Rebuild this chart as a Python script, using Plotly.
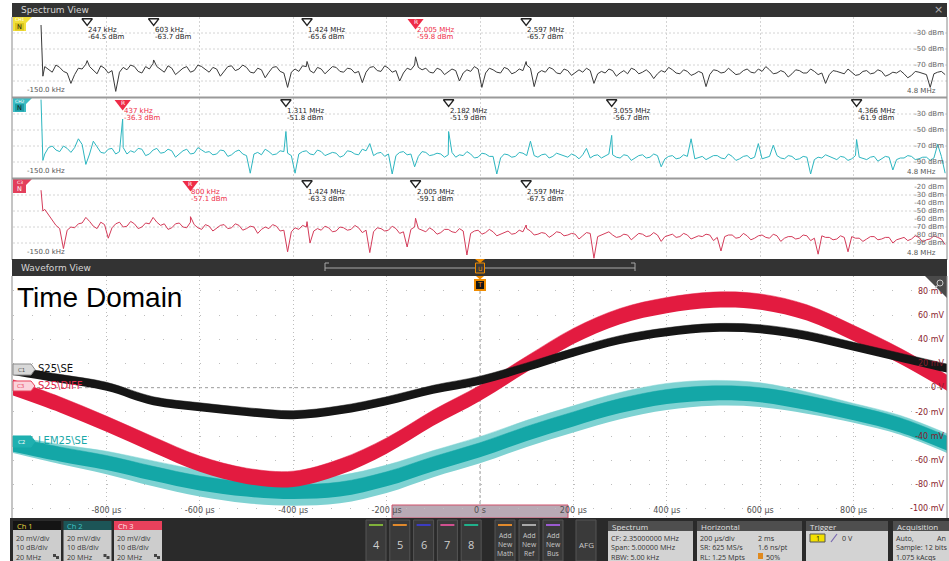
import numpy as np
import plotly.graph_objects as go

W, H = 949, 561
FONT = "DejaVu Sans"
UI_FONT = "Open Sans"

# ---------------- spectrum data (levels in dBm) ----------------
# regular samples every 20 kHz from 0.02 MHz to 4.84 MHz
SPEC_FREQ_MHZ = np.round(np.arange(1, 243) * 0.02, 3)
DC_FREQ_MHZ = [0.0, 0.01]

SPEC1_DC_DBM = [-20, -84]
SPEC1_DBM = [
    -72, -76, -79, -70, -73, -78, -80, -93, -82, -74,
    -75, -69, -72, -77, -81, -71, -74, -80, -77, -103,
    -79, -73, -76, -70, -72, -78, -80, -72, -75, -68,
    -72, -75, -79, -71, -74, -82, -78, -74, -72, -79,
    -77, -70, -72, -76, -79, -73, -75, -84, -78, -72,
    -71, -77, -75, -70, -73, -79, -80, -74, -76, -86,
    -79, -73, -72, -78, -80, -98, -79, -75, -78, -71,
    -72, -77, -80, -73, -75, -81, -77, -72, -73, -78,
    -79, -74, -75, -80, -78, -92, -79, -73, -72, -77,
    -78, -71, -74, -79, -77, -90, -80, -74, -76, -70,
    -73, -76, -74, -79, -80, -74, -76, -82, -79, -75,
    -77, -90, -80, -76, -78, -72, -75, -98, -80, -74,
    -76, -79, -80, -73, -75, -81, -79, -75, -77, -70,
    -74, -97, -80, -77, -79, -73, -75, -80, -81, -75,
    -77, -83, -80, -76, -79, -74, -77, -93, -81, -78,
    -80, -75, -77, -84, -80, -77, -81, -74, -76, -81,
    -79, -76, -80, -87, -81, -77, -79, -73, -76, -80,
    -81, -76, -78, -83, -81, -78, -80, -97, -82, -76,
    -77, -80, -79, -74, -78, -82, -81, -77, -75, -79,
    -80, -75, -78, -72, -76, -81, -80, -77, -79, -85,
    -81, -76, -77, -80, -80, -75, -78, -82, -80, -93,
    -82, -77, -78, -80, -81, -75, -79, -83, -82, -78,
    -77, -81, -80, -76, -78, -84, -82, -79, -80, -77,
    -81, -86, -83, -78, -79, -81, -82, -98, -81, -79,
    -78, -82,
]
SPEC2_DC_DBM = [-12, -88]
SPEC2_DBM = [
    -80, -72, -70, -75, -77, -70, -73, -78, -72, -61,
    -68, -93, -80, -64, -71, -78, -79, -74, -73, -80,
    -77, -72, -80, -76, -78, -73, -74, -82, -80, -75,
    -73, -79, -78, -74, -76, -84, -80, -76, -74, -80,
    -79, -72, -75, -78, -77, -81, -80, -75, -76, -83,
    -81, -77, -75, -80, -82, -104, -80, -78, -81, -74,
    -77, -81, -80, -76, -77, -79, -82, -104, -80, -77,
    -76, -80, -81, -75, -77, -82, -80, -78, -79, -84,
    -82, -76, -77, -80, -81, -74, -76, -67, -82, -79,
    -78, -83, -80, -105, -82, -78, -77, -81, -80, -96,
    -83, -77, -78, -82, -81, -79, -80, -84, -81, -78,
    -84, -81, -82, -77, -80, -85, -84, -79, -80, -83,
    -83, -105, -85, -80, -81, -84, -83, -78, -79, -82,
    -64, -82, -84, -81, -80, -85, -83, -79, -81, -83,
    -84, -80, -82, -86, -81, -73, -85, -82, -81, -85,
    -83, -80, -81, -84, -85, -81, -82, -88, -85, -82,
    -81, -85, -84, -80, -82, -96, -86, -83, -82, -86,
    -85, -81, -83, -61, -86, -84, -83, -87, -85, -82,
    -82, -85, -86, -80, -83, -88, -86, -83, -82, -86,
    -84, -67, -86, -84, -83, -69, -82, -85, -86, -82,
    -83, -87, -86, -83, -84, -105, -87, -84, -85, -81,
    -83, -86, -87, -83, -84, -88, -86, -82, -84, -86,
    -87, -84, -83, -89, -86, -83, -84, -100, -87, -85,
    -85, -82, -83, -87, -86, -84, -84, -88, -85, -68,
    -83, -104,
]
SPEC3_DC_DBM = [-24, -50]
SPEC3_DBM = [
    -48, -55, -62, -68, -72, -97, -74, -70, -71, -66,
    -65, -58, -63, -69, -72, -64, -67, -84, -71, -66,
    -64, -70, -69, -63, -66, -72, -70, -65, -66, -58,
    -64, -68, -66, -73, -71, -66, -65, -70, -71, -64,
    -67, -71, -73, -67, -69, -75, -72, -68, -67, -72,
    -71, -66, -68, -74, -72, -69, -70, -78, -73, -70,
    -72, -67, -69, -75, -74, -101, -76, -71, -73, -68,
    -70, -90, -75, -72, -74, -69, -71, -76, -75, -70,
    -71, -74, -73, -68, -71, -77, -74, -102, -76, -71,
    -72, -75, -74, -69, -72, -78, -76, -95, -73, -70,
    -72, -74, -76, -71, -74, -79, -77, -73, -73, -76,
    -77, -72, -75, -105, -78, -75, -74, -79, -77, -73,
    -76, -81, -79, -76, -75, -79, -78, -74, -76, -72,
    -75, -80, -79, -77, -78, -83, -80, -76, -77, -81,
    -80, -78, -79, -85, -81, -77, -78, -109, -82, -80,
    -79, -76, -80, -83, -82, -79, -80, -86, -82, -78,
    -79, -82, -81, -77, -80, -88, -82, -80, -79, -83,
    -82, -78, -80, -85, -83, -81, -82, -79, -80, -87,
    -83, -100, -82, -80, -80, -84, -83, -78, -81, -86,
    -84, -81, -80, -83, -84, -79, -81, -88, -84, -82,
    -82, -85, -84, -80, -81, -87, -84, -104, -81, -83,
    -83, -86, -85, -81, -83, -101, -82, -84, -84, -88,
    -85, -82, -82, -86, -85, -83, -83, -90, -86, -84,
    -83, -87, -85, -81, -83, -89, -86, -85, -81, -83,
    -85, -92,
]

# peak markers (frequency in MHz, level in dBm); REF = index of the reference marker
MARK1_MHZ = [0.247, 0.603, 1.424, 2.005, 2.597]
MARK1_DBM = [-64.5, -63.7, -65.6, -59.8, -65.7]
MARK1_REF = 3
MARK2_MHZ = [0.437, 1.311, 2.182, 3.055, 4.366]
MARK2_DBM = [-36.3, -51.8, -51.9, -56.7, -61.9]
MARK2_REF = 0
MARK3_MHZ = [0.800, 1.424, 2.005, 2.597]
MARK3_DBM = [-57.1, -63.3, -59.1, -67.5]
MARK3_REF = 0

SPEC_RANGE_MHZ = [-0.15, 4.85]
SPEC_RANGE_DBM = [-110, -10]
SPEC_GRID_DBM = [-30, -50, -70, -90]

# ---------------- time-domain data (mV) ----------------
WAVE_T_US = [-1000, -900, -800, -700, -600, -500, -400, -300, -200, -100, 0,
             100, 200, 300, 400, 500, 600, 700, 800, 900, 1000]
CH1_MV = [14, 7.5, 1, -11, -16, -20, -22.5, -18.5, -11, -1.5, 6,
          17, 29, 39.5, 46, 49.5, 48.5, 43, 34, 25, 16]
CH3_MV = [0, -14, -30, -47, -63, -73, -75.5, -65.5, -48, -25, -4.5,
          19.5, 42.5, 59, 68, 72.5, 71, 62, 45, 26, 4]
CH2_MV = [-47, -55, -62, -71, -79, -84, -86, -84, -75.5, -63, -51.5,
          -38, -26, -15, -7.5, -4.5, -6, -12.5, -21, -31, -46]
CH1_NOISE_MV = 3.5
CH3_NOISE_MV = 6.5
CH2_NOISE_MV = 6.0
CH2_HALO_MV = [7, 8, 9.5, 10.5, 11, 11.5, 11.5, 11.5, 11.5, 11, 11,
               11, 11, 11, 11, 10.5, 10, 9, 8, 8, 8]

TIME_TICKS_US = [-800, -600, -400, -200, 0, 200, 400, 600, 800]
VOLT_TICKS_MV = [80, 60, 40, 20, 0, -20, -40, -60, -80, -100]

# ---------------- helpers ----------------
fig = go.Figure()
shapes, annos = [], []


def px_x(x):
    return x / W


def px_y(y):
    return 1 - y / H


def rect(x0, y0, x1, y1, fill, line=None, lw=0, layer="above"):
    shapes.append(dict(type="rect", xref="paper", yref="paper",
                       x0=px_x(x0), x1=px_x(x1), y0=px_y(y1), y1=px_y(y0),
                       fillcolor=fill, line=dict(color=line or fill, width=lw), layer=layer))


def seg(x0, y0, x1, y1, color, lw=1, dash="solid", layer="above"):
    shapes.append(dict(type="line", xref="paper", yref="paper",
                       x0=px_x(x0), y0=px_y(y0), x1=px_x(x1), y1=px_y(y1),
                       line=dict(color=color, width=lw, dash=dash), layer=layer))


def poly(pts, fill, line=None, lw=0, layer="above"):
    d = "M " + " L ".join(f"{px_x(x):.5f},{px_y(y):.5f}" for x, y in pts) + " Z"
    shapes.append(dict(type="path", xref="paper", yref="paper", path=d, fillcolor=fill,
                       line=dict(color=line or fill, width=lw), layer=layer))


def label(x, y, s, size=8, color="#222", xa="left", family=FONT):
    annos.append(dict(xref="paper", yref="paper", x=px_x(x), y=px_y(y), text=s,
                      showarrow=False, xanchor=xa, yanchor="middle", borderpad=0,
                      font=dict(size=size, color=color, family=family)))


def freq_text(f):
    return f"{f * 1000:.0f} kHz" if f < 1 else f"{f:.3f} MHz"


axes = {}

# ---------------- spectrum view ----------------
PANELS = [
    dict(levels=SPEC1_DBM, dc=SPEC1_DC_DBM, mf=MARK1_MHZ, md=MARK1_DBM, ref=MARK1_REF,
         color="#3a3a3a", top=17, bottom=97, ticks=[-30, -50, -70],
         badge="#f2df3a", badge_in="#dcc61e", tag="CH1", tag_col="#ffffff", n_col="#111"),
    dict(levels=SPEC2_DBM, dc=SPEC2_DC_DBM, mf=MARK2_MHZ, md=MARK2_DBM, ref=MARK2_REF,
         color="#2db6c0", top=98, bottom=178, ticks=[-30, -50, -70, -90],
         badge="#3cbcc4", badge_in="#1f9ea6", tag="CH2", tag_col="#ffffff", n_col="#111"),
    dict(levels=SPEC3_DBM, dc=SPEC3_DC_DBM, mf=MARK3_MHZ, md=MARK3_DBM, ref=MARK3_REF,
         color="#d43c5a", top=179, bottom=259, ticks=[-20, -30, -40, -50, -60, -70, -80, -90],
         badge="#e3405c", badge_in="#e3405c", tag="C3", tag_col="#ffffff", n_col="#ffffff"),
]

rect(12, 3, 947, 17, "#333333")
label(20, 10, "Spectrum View", 9, "#d6d6d6")
label(938, 10, "×", 11, "#b0b0b0", xa="center")

px_per_db = 80 / (SPEC_RANGE_DBM[1] - SPEC_RANGE_DBM[0])
mark_y = SPEC_RANGE_DBM[1] - 4.0 / px_per_db
ref_y = SPEC_RANGE_DBM[1] - 5.5 / px_per_db

for i, p in enumerate(PANELS):
    n = "" if i == 0 else str(i + 1)
    xr, yr = "x" + n, "y" + n
    axes["xaxis" + n] = dict(domain=[px_x(13), px_x(947)], range=SPEC_RANGE_MHZ, anchor=yr,
                             tickmode="linear", tick0=-0.15, dtick=0.5, showticklabels=False,
                             ticks="", zeroline=False, showline=False, showgrid=True,
                             gridcolor="#d4d4d4", griddash="2px,2px", gridwidth=1)
    axes["yaxis" + n] = dict(domain=[px_y(p["bottom"]), px_y(p["top"])], range=SPEC_RANGE_DBM,
                             anchor=xr, side="right", tickmode="array", tickvals=p["ticks"],
                             ticktext=[f"{v} dBm" for v in p["ticks"]],
                             ticklabelposition="inside", ticklabeloverflow="allow",
                             ticks="", showgrid=False, zeroline=False, showline=False,
                             tickfont=dict(size=7, color="#6a6a6a", family=FONT))
    for v in SPEC_GRID_DBM:
        shapes.append(dict(type="line", xref="paper", yref=yr, x0=px_x(13), x1=px_x(947),
                           y0=v, y1=v, line=dict(color="#d4d4d4", width=1, dash="2px,2px"),
                           layer="below"))

    f = np.concatenate([DC_FREQ_MHZ, SPEC_FREQ_MHZ, p["mf"]])
    v = np.concatenate([p["dc"], p["levels"], p["md"]])
    order = np.argsort(f, kind="stable")
    fig.add_trace(go.Scatter(x=f[order], y=v[order], mode="lines",
                             line=dict(color=p["color"], width=1),
                             xaxis=xr, yaxis=yr, hoverinfo="skip"))

    normal = [j for j in range(len(p["mf"])) if j != p["ref"]]
    fig.add_trace(go.Scatter(x=[p["mf"][j] for j in normal], y=[mark_y] * len(normal),
                             mode="markers", cliponaxis=False, xaxis=xr, yaxis=yr,
                             marker=dict(symbol="triangle-down-open", size=9, color="#222",
                                         line=dict(width=1.3, color="#222")),
                             hoverinfo="skip"))
    fig.add_trace(go.Scatter(x=[p["mf"][p["ref"]]], y=[ref_y], mode="markers",
                             cliponaxis=False, xaxis=xr, yaxis=yr,
                             marker=dict(symbol="triangle-down", size=14, color="#ee2b47"),
                             hoverinfo="skip"))
    annos.append(dict(xref=xr, yref=yr + " domain", x=p["mf"][p["ref"]], y=1 - 4.5 / 80,
                      text="R", showarrow=False, xanchor="center", yanchor="middle",
                      font=dict(size=6, color="#ffffff", family=FONT)))

    for j, (mf, md) in enumerate(zip(p["mf"], p["md"])):
        col = "#ee2b47" if j == p["ref"] else "#222222"
        for k, s in enumerate([freq_text(mf), f"{md:.1f} dBm"]):
            annos.append(dict(xref=xr, yref=yr + " domain", x=mf, y=1 - (13 + 7 * k) / 80,
                              text=s, showarrow=False, xanchor="left", yanchor="middle",
                              borderpad=0, font=dict(size=7, color=col, family=FONT)))

    label(26, p["bottom"] - 7, "-150.0 kHz", 7, "#555")
    label(937, p["bottom"] - 6, "4.8 MHz", 7, "#555", xa="right")

    # channel badge
    t = p["top"]
    poly([(13, t), (32, t), (26, t + 6), (26, t + 14), (13, t + 14)], p["badge"])
    rect(15, t + 6, 24, t + 13.5, p["badge_in"])
    label(19.5, t + 3, p["tag"], 4.5, p["tag_col"], xa="center")
    label(19.5, t + 10, "N", 6.5, p["n_col"], xa="center")

# panel frames and separators
seg(12, 17, 12, 260, "#8a8a8a", 1)
seg(947, 17, 947, 260, "#8a8a8a", 1)
seg(12, 97.5, 947, 97.5, "#9a9a9a", 2)
seg(12, 178.5, 947, 178.5, "#9a9a9a", 2)

# ---------------- waveform view ----------------
rect(12, 259, 947, 276, "#333333")
label(20, 268, "Waveform View", 9, "#d6d6d6")
seg(325, 268, 635, 268, "#a8a8a8", 1)
seg(325, 263, 325, 271, "#a8a8a8", 1)
seg(635, 263, 635, 271, "#a8a8a8", 1)
seg(325, 263, 329, 263, "#a8a8a8", 1)
seg(631, 263, 635, 263, "#a8a8a8", 1)
poly([(475, 259), (485, 259), (480, 263)], "#f08c00")
rect(475.5, 263, 484.5, 273, "#3a3a3a", "#f08c00", 1)
label(480, 268, "U", 6, "#f08c00", xa="center")
poly([(476, 276), (484, 276), (480, 279.5)], "#f08c00")
rect(474, 279, 486, 291, "#f08c00")
rect(476, 281, 484, 289, "#151515")
label(480, 285, "T", 7, "#f08c00", xa="center")

axes["xaxis4"] = dict(domain=[px_x(13), px_x(947)], range=[-1000, 1000], anchor="y4",
                      tickmode="array", tickvals=TIME_TICKS_US,
                      ticktext=[("0 s" if v == 0 else f"{v} µs") for v in TIME_TICKS_US],
                      ticklabelposition="inside", ticklabeloverflow="allow", ticks="",
                      showgrid=True, gridcolor="#bdbdbd", griddash="1px,3px", gridwidth=1,
                      zeroline=False, showline=False,
                      tickfont=dict(size=8, color="#505050", family=FONT))
axes["yaxis4"] = dict(domain=[px_y(518), px_y(276)], range=[-107.7, 92.3], anchor="x4",
                      side="right", tickmode="array", tickvals=VOLT_TICKS_MV,
                      ticktext=[("0 V" if v == 0 else f"{v} mV") for v in VOLT_TICKS_MV],
                      ticklabelposition="inside", ticklabeloverflow="allow", ticks="",
                      showgrid=True, gridcolor="#bdbdbd", griddash="1px,17.7px", gridwidth=1,
                      zeroline=False, showline=False,
                      tickfont=dict(size=8, color="#8a1c2e", family=FONT))

# zero-time and zero-volt reference lines
shapes.append(dict(type="line", xref="x4", yref="paper", x0=0, x1=0, y0=px_y(291), y1=px_y(518),
                   line=dict(color="#9a9a9a", width=1, dash="3px,3px"), layer="below"))
shapes.append(dict(type="line", xref="paper", yref="y4", x0=px_x(13), x1=px_x(947), y0=0, y1=0,
                   line=dict(color="#9a9a9a", width=1, dash="3px,3px"), layer="below"))

# spectrum time window on the time axis
rect(392, 505, 568, 518, "#b9aab5", "#d0506a", 1, layer="below")


def band(center, half, color):
    if np.isscalar(half):
        half = [half] * len(center)
    lo = [c - h for c, h in zip(center, half)]
    hi = [c + h for c, h in zip(center, half)]
    fig.add_trace(go.Scatter(x=WAVE_T_US, y=lo, mode="lines", xaxis="x4", yaxis="y4",
                             line=dict(width=0, shape="spline", color=color), hoverinfo="skip"))
    fig.add_trace(go.Scatter(x=WAVE_T_US, y=hi, mode="lines", xaxis="x4", yaxis="y4",
                             line=dict(width=0.5, shape="spline", color=color),
                             fill="tonexty", fillcolor=color, hoverinfo="skip"))


band(CH2_MV, CH2_HALO_MV, "#7fd2d2")
band(CH2_MV, CH2_NOISE_MV, "#14a7a7")
band(CH3_MV, CH3_NOISE_MV, "#e31b40")
band(CH1_MV, CH1_NOISE_MV, "#161616")

# channel labels
poly([(13, 364), (31, 364), (35, 369.5), (31, 375), (13, 375)], "#d8d8d8", "#8a8a8a", 1)
label(21, 369.5, "C1", 5.5, "#555", xa="center")
label(37, 368.5, "S25\\SE", 10, "#111")
poly([(13, 381), (31, 381), (35, 386), (31, 391), (13, 391)], "#fbd3db", "#e8405a", 1)
label(21, 386, "C3", 5.5, "#e8405a", xa="center")
label(37, 385, "S25\\DIFF", 10, "#e0284a")
poly([(13, 436), (31, 436), (35, 441.5), (31, 447), (13, 447)], "#1fb0b0", "#1fb0b0", 1)
label(21, 441.5, "C2", 5.5, "#ffffff", xa="center")
label(37, 440.5, "LEM25\\SE", 10, "#1aa8a8")

label(16, 297, "Time Domain", 28, "#000000", family="Liberation Sans")

# zoom corner
poly([(925, 276), (947, 276), (947, 298)], "#4a4a4a")
shapes.append(dict(type="circle", xref="paper", yref="paper", x0=px_x(937), x1=px_x(943),
                   y0=px_y(286), y1=px_y(280), line=dict(color="#c8c8c8", width=1)))
seg(937.5, 285.5, 935, 288, "#c8c8c8", 1.2)

seg(12, 276, 12, 518, "#8a8a8a", 1)
seg(947, 276, 947, 518, "#8a8a8a", 1)

# ---------------- status bar ----------------
rect(10, 518, 949, 561, "#2a2a2a")
ROW_Y = [537.5, 547.0, 556.5]

CH_NAMES = ["Ch 1", "Ch 2", "Ch 3"]
CH_HDR = ["#141414", "#1c5557", "#e8415c"]
CH_HDR_TXT = ["#e6d33c", "#3fc3c6", "#ffe6ea"]
CH_SETTINGS = ["20 mV/div", "10 dB/div", "20 MHz"]
for k, (name, hc, tc) in enumerate(zip(CH_NAMES, CH_HDR, CH_HDR_TXT)):
    x0 = 13 + 50.5 * k
    rect(x0, 521, x0 + 48, 530, hc)
    rect(x0, 530, x0 + 48, 561, "#cdcdcd")
    label(x0 + 2.5, 525.5, name, 7.5, tc, family=UI_FONT)
    for ry, s in zip(ROW_Y, CH_SETTINGS):
        label(x0 + 2, ry, s, 7.2, "#3c3c3c", family=UI_FONT)
    rect(x0 + 40, 554, x0 + 43, 557, "#444")
    rect(x0 + 43, 556, x0 + 46, 559, "#444")

BTN_NUM = ["4", "5", "6", "7", "8"]
BTN_COL = ["#7fb03a", "#e0892c", "#3c3cc0", "#d0508f", "#20b08a"]
for k, (s, c) in enumerate(zip(BTN_NUM, BTN_COL)):
    x0 = 366 + 23.8 * k
    rect(x0, 520, x0 + 20, 561, "#3a3a3a", "#555555", 1)
    seg(x0 + 3, 525, x0 + 17, 525, c, 2)
    label(x0 + 10, 544, s, 11, "#cfcfcf", xa="center", family=UI_FONT)

ADD_NAMES = ["Math", "Ref", "Bus"]
ADD_COL = ["#e0892c", "#a8a8a8", "#9a5ad0"]
for k, (s, c) in enumerate(zip(ADD_NAMES, ADD_COL)):
    x0 = 495 + 24 * k
    rect(x0, 520, x0 + 20, 561, "#3a3a3a", "#555555", 1)
    seg(x0 + 3, 525, x0 + 17, 525, c, 2)
    for r, w in enumerate(["Add", "New", s]):
        label(x0 + 10, 535.5 + 8.8 * r, w, 6.8, "#c8c8c8", xa="center", family=UI_FONT)

rect(576, 520, 596, 561, "#3a3a3a", "#555555", 1)
label(586, 544, "AFG", 8, "#c8c8c8", xa="center", family=UI_FONT)

INFO_BOXES = [
    ("Spectrum", 608, 693, [[("CF: 2.35000000 MHz", 0)], [("Span: 5.00000 MHz", 0)], [("RBW: 5.00 kHz", 0)]]),
    ("Horizontal", 697, 802, [[("200 µs/div", 0), ("2 ms", 58)],
                              [("SR: 625 MS/s", 0), ("1.6 ns/pt", 58)],
                              [("RL: 1.25 Mpts", 0), ("50%", 66)]]),
    ("Trigger", 806, 888, []),
    ("Acquisition", 893, 952, [[("Auto,", 0), ("An", 41)], [("Sample: 12 bits", 0)], [("1.075 kAcqs", 0)]]),
]
for title, x0, x1, rows in INFO_BOXES:
    rect(x0, 521, x1, 531, "#4e4e4e")
    rect(x0, 531, x1, 561, "#d3d3d3")
    label(x0 + 3, 526, title, 8, "#e2e2e2", family=UI_FONT)
    for ry, row in zip(ROW_Y, rows):
        for s, dx in row:
            label(x0 + 2 + dx, ry, s, 7.2, "#333333", family=UI_FONT)
rect(758, 553, 763, 559, "#e08a1e")
rect(810, 534, 825, 542, "#f2e000", "#555555", 1)
label(817.5, 538, "1", 7, "#111", xa="center", family=UI_FONT)
seg(831, 542, 837, 534, "#7868b0", 1.2)
label(841, 538, "0 V", 7.2, "#333333", family=UI_FONT)

fig.update_layout(
    width=W, height=H, margin=dict(l=0, r=0, t=0, b=0),
    paper_bgcolor="#ffffff", plot_bgcolor="rgba(0,0,0,0)",
    showlegend=False, shapes=shapes, annotations=annos, **axes,
)
fig.write_html("out.html", config={"displayModeBar": False})
